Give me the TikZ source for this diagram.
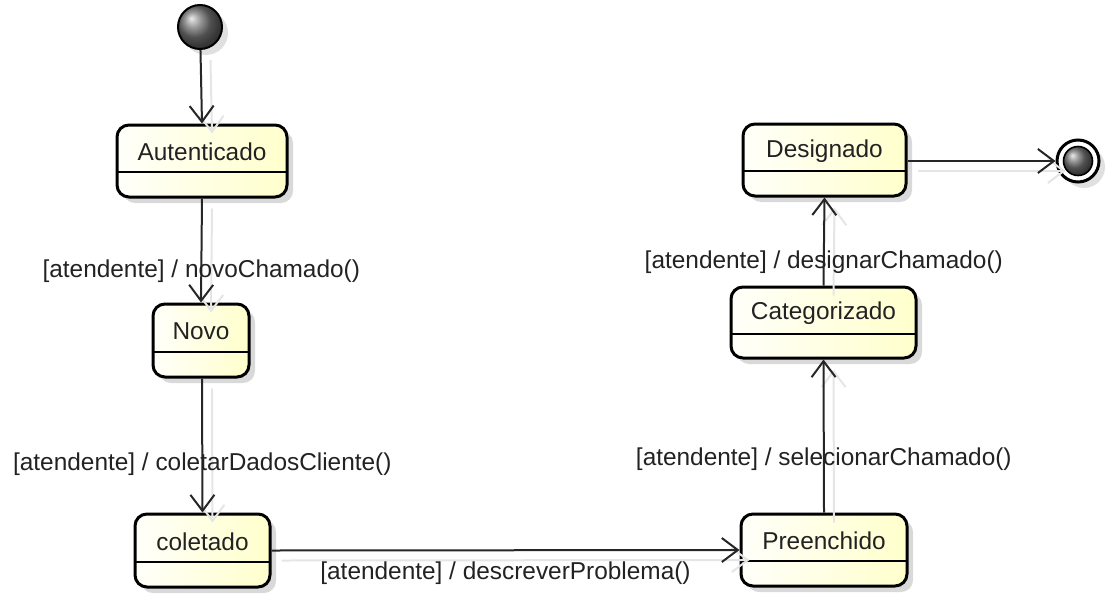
\documentclass[tikz,border=0pt]{standalone}
\usepackage{fontspec}
\setmainfont{Liberation Sans}
\usetikzlibrary{arrows.meta,shadows,shadings}
\definecolor{txt}{HTML}{222222}
\begin{document}
\begin{tikzpicture}[x=0.5pt,y=-0.5pt,
  every node/.style={font=\fontsize{12.2}{14}\selectfont, text=txt},
  shadowline/.style={preaction={draw=black!10, line width=1pt, transform canvas={shift={(5pt,-5pt)}}}},
  stbox/.style={draw=black, line width=1.5pt, rounded corners=6pt, left color=yellow!2, right color=yellow!20,
    drop shadow={shadow xshift=3pt, shadow yshift=-3pt, opacity=0.25, fill=black!60}, inner sep=0pt,
    path picture={\draw[line width=1pt] ([yshift=-5.5pt]path picture bounding box.west) -- ([yshift=-5.5pt]path picture bounding box.east);}},
  trans/.style={draw=black!85, line width=1pt, -{Straight Barb[length=8pt,width=12pt,line width=1pt]}, shadowline},
  lbl/.style={inner sep=1pt}
]
\useasboundingbox (0,0) rectangle (1107,594);
% initial
\node[circle, minimum size=22pt, inner sep=0pt, draw=black, line width=1pt, ball color=black!55,
  drop shadow={shadow xshift=3pt, shadow yshift=-3pt, opacity=0.2, fill=black!60}] (ini) at (200,27) {};
% states
\node[stbox, minimum width=85pt, minimum height=36pt, label={[yshift=4.5pt]center:Autenticado}] (aut) at (202,161) {};
\node[stbox, minimum width=48pt, minimum height=36.5pt, label={[yshift=4.5pt]center:Novo}] (novo) at (201,340.5) {};
\node[stbox, minimum width=67.5pt, minimum height=36.5pt, label={[yshift=4.5pt]center:coletado}] (col) at (202.5,550.5) {};
\node[stbox, minimum width=83pt, minimum height=36pt, label={[yshift=4.5pt]center:Preenchido}] (pre) at (824,550) {};
\node[stbox, minimum width=92.5pt, minimum height=35.5pt, label={[yshift=4.5pt]center:Categorizado}] (cat) at (823.5,322.5) {};
\node[stbox, minimum width=81.5pt, minimum height=36pt, label={[yshift=4.5pt]center:Designado}] (des) at (824.5,160) {};
% final
\node[circle, minimum size=21pt, inner sep=0pt, draw=black, line width=1.5pt, fill=white,
  drop shadow={shadow xshift=3pt, shadow yshift=-3pt, opacity=0.2, fill=black!60}] (fin) at (1078,161) {};
\node[circle, minimum size=14.5pt, inner sep=0pt, draw=black, line width=0.8pt, ball color=black!55] (fincore) at (fin.center) {};
% transitions
\draw[trans] (ini) -- (aut.north);
\draw[trans] (aut.south) -- node[lbl, pos=0.70] {[atendente] / novoChamado()} (novo.north);
\draw[trans] ([xshift=0.5pt]novo.south) -- node[lbl, pos=0.64] {[atendente] / coletarDadosCliente()} (col.north);
\draw[trans] (col.east) -- node[lbl, pos=0.5, yshift=-11.5pt] {[atendente] / descreverProblema()} (pre.west);
\draw[trans] (pre.north) -- node[lbl, pos=0.35] {[atendente] / selecionarChamado()} (cat.south);
\draw[trans] (cat.north) -- node[lbl, pos=0.27] {[atendente] / designarChamado()} (des.south);
\draw[trans] (des.east |- fin) -- (fin.west);
\end{tikzpicture}
\end{document}
